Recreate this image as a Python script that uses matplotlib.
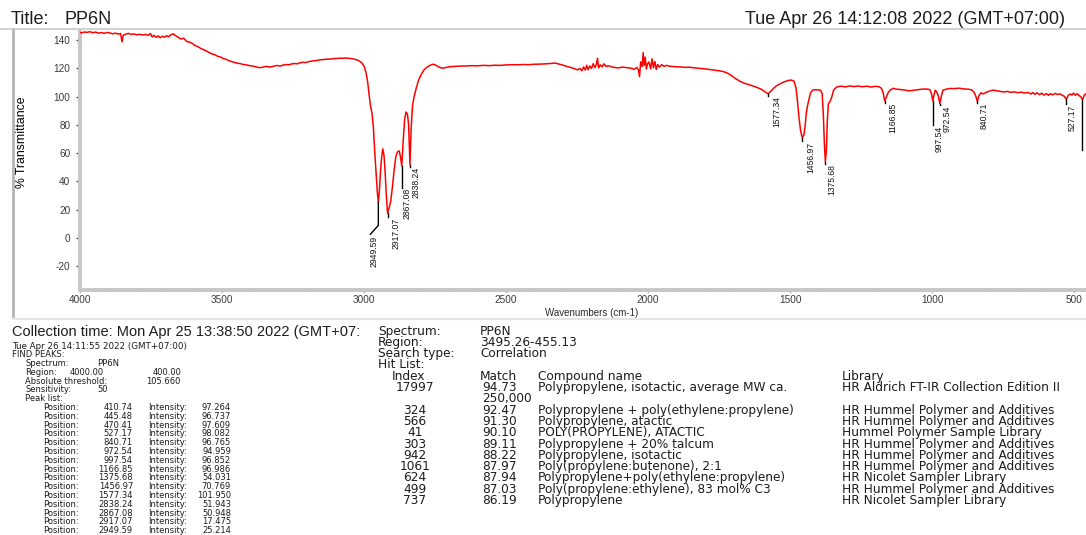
import matplotlib
matplotlib.use("Agg")
import matplotlib.pyplot as plt
from matplotlib.lines import Line2D
from matplotlib.ticker import MultipleLocator

W, H = 1086, 535
plt.rcParams['font.family'] = ['Liberation Sans', 'DejaVu Sans']

# ---------------- data ----------------
wavenumber = [
    4000, 3993, 3985, 3975, 3966, 3955, 3945, 3935, 3925, 3915, 3905, 3895, 3885, 3875, 3865, 3857,
    3852, 3848, 3840, 3830, 3820, 3810, 3800, 3790, 3780, 3770, 3760, 3752, 3746, 3740, 3732, 3725,
    3718, 3710, 3702, 3695, 3688, 3680, 3672, 3665, 3655, 3645, 3635, 3625, 3615, 3605, 3595, 3585,
    3575, 3565, 3555, 3545, 3535, 3525, 3515, 3505, 3495, 3485, 3475, 3465, 3455, 3445, 3435, 3425,
    3415, 3405, 3395, 3385, 3375, 3365, 3355, 3345, 3335, 3325, 3315, 3305, 3295, 3285, 3275, 3265,
    3255, 3245, 3235, 3225, 3215, 3205, 3195, 3185, 3175, 3165, 3155, 3145, 3135, 3125, 3115, 3105,
    3095, 3085, 3075, 3065, 3055, 3045, 3035, 3025, 3015, 3007, 3000, 2993, 2987, 2982, 2977, 2972,
    2967, 2962, 2957, 2953, 2949.59, 2946, 2942, 2938, 2934, 2930, 2926, 2922, 2917.07, 2912, 2906,
    2900, 2894, 2888, 2882, 2876, 2871, 2867.08, 2862, 2857, 2852, 2847, 2843, 2838.24, 2834, 2829,
    2823, 2816, 2808, 2800, 2790, 2780, 2770, 2758, 2750, 2738, 2726, 2716, 2700, 2680, 2660, 2640,
    2620, 2600, 2580, 2560, 2540, 2520, 2500, 2480, 2460, 2440, 2420, 2400, 2380, 2360, 2340, 2325,
    2315, 2300, 2285, 2270, 2258, 2248, 2240, 2233, 2227, 2221, 2216, 2211, 2205, 2199, 2193, 2187,
    2182, 2178, 2174, 2168, 2162, 2155, 2148, 2140, 2130, 2120, 2105, 2090, 2075, 2060, 2048, 2040,
    2034, 2030, 2026, 2021, 2017, 2014, 2010, 2006, 2002, 1997, 1991, 1986, 1981, 1976, 1971, 1966,
    1960, 1952, 1944, 1935, 1925, 1912, 1900, 1885, 1870, 1855, 1840, 1825, 1810, 1795, 1780, 1765,
    1750, 1735, 1720, 1705, 1690, 1675, 1660, 1645, 1630, 1615, 1600, 1590, 1577.34, 1568, 1558, 1548,
    1535, 1520, 1505, 1495, 1486, 1479, 1474, 1469, 1463, 1456.97, 1451, 1447, 1443, 1439, 1434, 1428,
    1421, 1410, 1400, 1392, 1387, 1383, 1379, 1375.68, 1372, 1369, 1365, 1360, 1354, 1347, 1340, 1333,
    1320, 1305, 1290, 1275, 1260, 1245, 1230, 1215, 1200, 1188, 1178, 1172, 1166.85, 1161, 1155, 1147,
    1137, 1125, 1110, 1095, 1080, 1065, 1050, 1035, 1020, 1008, 1002, 997.54, 994, 989, 984, 978,
    972.54, 968, 962, 950, 935, 920, 905, 890, 875, 862, 852, 846, 840.71, 835, 828, 820,
    812, 804, 795, 785, 772, 760, 748, 735, 722, 710, 698, 686, 674, 663, 652, 645,
    638, 630, 622, 614, 606, 598, 590, 583, 575, 567, 558, 550, 542, 535, 527.17, 521,
    514, 508, 502, 496, 489, 482, 476, 470.41, 465, 460, 455,
]
transmittance = [
    145.2, 145.0, 145.6, 145.3, 145.8, 145.1, 145.5, 144.8, 145.2, 144.6, 145.3, 144.9, 144.3, 144.8, 144.1, 144.5,
    138.6, 143.2, 144.0, 144.6, 143.9, 144.2, 143.6, 144.0, 143.4, 143.9, 143.2, 144.5, 142.0, 143.3, 141.8, 142.9,
    141.5, 142.6, 141.9, 143.0, 142.2, 143.6, 144.3, 143.2, 142.0, 140.6, 141.2, 139.0, 138.4, 137.6, 136.0, 135.2,
    134.0, 133.1, 132.2, 131.0, 130.1, 129.5, 128.4, 127.9, 126.8, 126.2, 125.3, 124.6, 124.0, 123.5, 123.2, 122.6,
    122.4, 121.9, 121.6, 121.2, 120.6, 120.4, 120.8, 121.3, 120.9, 121.0, 121.6, 121.9, 121.5, 122.2, 122.6, 122.4,
    123.0, 123.3, 123.1, 123.8, 124.2, 124.0, 124.6, 125.0, 125.3, 125.5, 125.9, 126.1, 126.3, 126.4, 126.6, 126.8,
    126.9, 127.1, 127.0, 127.2, 127.0, 126.8, 126.4, 125.9, 124.9, 123.6, 121.5, 117.0, 110.0, 101.0, 93.0, 88.5,
    78.0, 60.0, 45.0, 32.0, 25.2, 33.0, 47.0, 57.0, 63.0, 59.0, 48.0, 32.0, 17.5, 21.0, 26.0,
    36.0, 48.0, 57.5, 61.0, 61.5, 56.5, 50.9, 69.0, 84.0, 89.0, 87.5, 80.0, 51.9, 78.0, 94.0,
    100.5, 106.0, 111.5, 115.0, 118.5, 120.5, 121.8, 122.8, 122.4, 121.0, 120.0, 120.3, 121.0, 121.3, 121.5, 121.6,
    121.8, 121.7, 122.0, 121.8, 122.1, 122.0, 122.3, 122.5, 122.4, 122.6, 122.5, 122.8, 122.9, 123.1, 123.4, 123.6,
    123.0, 122.2, 121.2, 120.4, 119.6, 118.8, 119.8, 118.2, 120.9, 118.7, 122.1, 118.9, 121.6, 119.8, 123.2, 120.4,
    122.6, 127.0, 120.2, 122.4, 120.9, 123.1, 121.2, 121.8, 121.0, 120.6, 120.2, 120.8, 120.4, 120.0, 119.2, 120.6,
    118.9, 114.0, 124.5, 121.2, 131.0, 122.0, 127.8, 119.4, 123.0, 124.4, 119.6, 126.6, 120.3, 124.8, 119.0, 122.6,
    120.8, 122.5, 121.3, 122.0, 121.4, 121.2, 121.0, 120.9, 120.6, 120.7, 120.3, 120.0, 119.7, 119.4, 119.0, 118.6,
    118.2, 117.6, 116.5, 114.6, 112.4, 110.6, 109.3, 108.4, 107.4, 106.3, 105.0, 103.6, 101.95, 103.6, 105.8, 107.6,
    109.0, 110.4, 111.4, 111.6, 110.8, 106.0, 97.0, 86.0, 76.0, 70.8, 73.0, 79.0, 88.0, 93.0, 97.5, 102.5,
    104.5, 104.8, 104.6, 104.4, 102.0, 88.0, 66.0, 54.0, 62.0, 82.0, 95.0, 96.2, 99.0, 104.3, 106.0, 106.9,
    107.3, 106.8, 107.5, 107.0, 107.4, 106.9, 107.3, 106.7, 107.2, 107.0, 105.8, 102.5, 97.0, 99.5, 102.6, 104.6,
    105.8, 105.2, 104.9, 104.5, 104.0, 104.4, 104.8, 105.2, 105.3, 104.9, 102.0, 96.85, 100.5, 104.4, 103.4, 100.5,
    94.96, 99.5, 104.4, 105.2, 105.7, 105.6, 105.9, 105.4, 105.2, 104.8, 103.0, 100.2, 96.77, 100.5, 102.6, 101.8,
    102.7, 103.4, 103.9, 104.5, 104.0, 103.6, 103.2, 103.6, 102.9, 103.3, 102.7, 103.1, 102.4, 102.9, 101.8, 102.8,
    101.6, 102.6, 101.3, 102.4, 101.0, 102.1, 100.8, 102.0, 101.1, 102.2, 101.4, 101.9, 100.9, 100.2, 98.08, 100.6,
    101.8, 101.0, 102.4, 100.9, 102.0, 100.6, 99.8, 97.61, 100.5, 101.8, 101.2,
]

peak_positions = [410.74, 445.48, 470.41, 527.17, 840.71, 972.54, 997.54, 1166.85,
                  1375.68, 1456.97, 1577.34, 2838.24, 2867.08, 2917.07, 2949.59]
peak_intensities = [97.264, 96.737, 97.609, 98.082, 96.765, 94.959, 96.852, 96.986,
                    54.031, 70.769, 101.950, 51.943, 50.948, 17.475, 25.214]

hit_index = ["17997", "324", "566", "41", "303", "942", "1061", "624", "499", "737"]
hit_match = ["94.73", "92.47", "91.30", "90.10", "89.11", "88.22", "87.97", "87.94", "87.03", "86.19"]
hit_name = ["Polypropylene, isotactic, average MW ca.",
            "Polypropylene + poly(ethylene:propylene)",
            "Polypropylene, atactic",
            "POLY(PROPYLENE), ATACTIC",
            "Polypropylene + 20% talcum",
            "Polypropylene, isotactic",
            "Poly(propylene:butenone), 2:1",
            "Polypropylene+poly(ethylene:propylene)",
            "Poly(propylene:ethylene), 83 mol% C3",
            "Polypropylene"]
hit_library = ["HR Aldrich FT-IR Collection Edition II",
               "HR Hummel Polymer and Additives",
               "HR Hummel Polymer and Additives",
               "Hummel Polymer Sample Library",
               "HR Hummel Polymer and Additives",
               "HR Hummel Polymer and Additives",
               "HR Hummel Polymer and Additives",
               "HR Nicolet Sampler Library",
               "HR Hummel Polymer and Additives",
               "HR Nicolet Sampler Library"]

x_ticks = [4000, 3500, 3000, 2500, 2000, 1500, 1000, 500]
y_ticks = [-20, 0, 20, 40, 60, 80, 100, 120, 140]

# ---------------- layout ----------------
fig = plt.figure(figsize=(W / 100, H / 100), dpi=100)
fig.patch.set_facecolor('white')

WIDE = ['DejaVu Sans']


def fx(x):
    return x / W


def fy(y):
    return 1 - y / H


def ftext(x, y, s, size, ha='left', color='#1c1c1c', **kw):
    # y is the visual centre of the capital letters; place on the baseline
    base = y + 0.36 * size * 100 / 72
    fig.text(fx(x), fy(base), s, fontsize=size, ha=ha, va='baseline', color=color, **kw)


AX_L, AX_T, AX_R, AX_B = 80, 30, 1086, 290
XMIN, XMAX = 4000, 458
YMIN, YMAX = -36.75, 147.0
ax = fig.add_axes([fx(AX_L), fy(AX_B), (AX_R - AX_L) / W, (AX_B - AX_T) / H])
ax.set_facecolor('none')
ax.plot(wavenumber, transmittance, color='#ff0000', lw=1.1, zorder=3)
ax.set_xlim(XMIN, XMAX)
ax.set_ylim(YMIN, YMAX)

for s in ['top', 'right']:
    ax.spines[s].set_visible(False)
for s in ['left', 'bottom']:
    ax.spines[s].set_color('#c6c6c6')
    ax.spines[s].set_linewidth(2.8)

ax.set_xticks(x_ticks)
ax.set_xticklabels([str(t) for t in x_ticks])
ax.set_yticks(y_ticks)
ax.set_yticklabels([str(t) for t in y_ticks])
ax.xaxis.set_minor_locator(MultipleLocator(100))
ax.yaxis.set_minor_locator(MultipleLocator(5))
ax.tick_params(which='major', direction='out', length=3, width=1.0, color='#4a4a4a',
               labelsize=7.2, labelcolor='#3a3a3a')
ax.tick_params(axis='y', which='major', pad=4)
ax.tick_params(axis='x', which='major', length=1.5, pad=2)
ax.tick_params(which='minor', direction='inout', length=1.5, width=1.0, color='#5a5a5a')

# pixel -> data scales
px_per_wn = (AX_R - AX_L) / (XMIN - XMAX)
px_per_T = (AX_B - AX_T) / (YMAX - YMIN)

label_layout = {
    2949.59: dict(lead=23, slant=-8, drop=9, dx=-1, gap=2),
    2917.07: dict(lead=4, dx=4, gap=1),
    2867.08: dict(lead=22, dx=1, gap=0),
    2838.24: dict(lead=2, dx=2, gap=0),
    1577.34: dict(lead=2, dx=4, gap=0),
    1456.97: dict(lead=3, dx=4, gap=1),
    1375.68: dict(lead=2, dx=2, gap=1),
    1166.85: dict(lead=2, dx=4, gap=0),
    997.54: dict(lead=24, dx=2, gap=1),
    972.54: dict(lead=1, dx=3, gap=1),
    840.71: dict(lead=2, dx=2, gap=0),
    527.17: dict(lead=5, dx=1, gap=1),
    470.41: dict(lead=50, text=False),
}

for pos, inten in zip(peak_positions, peak_intensities):
    if pos < XMAX:
        continue
    lay = label_layout.get(pos, dict(lead=2, dx=3, gap=0))
    y_end = inten - lay['lead'] / px_per_T
    xs = [pos, pos]
    ys = [inten, y_end]
    tx, ty = pos, y_end
    if 'slant' in lay:
        x2 = pos - lay['slant'] / px_per_wn
        y2 = y_end - lay['drop'] / px_per_T
        xs.append(x2)
        ys.append(y2)
        tx, ty = x2, y2
    ax.plot(xs, ys, color='black', lw=1.0, zorder=4, clip_on=False)
    if lay.get('text', True):
        ax.annotate(f"{pos:.2f}", xy=(tx, ty), xycoords='data',
                    xytext=(lay['dx'] * 0.72, -lay['gap'] * 0.72), textcoords='offset points',
                    rotation=90, ha='left', va='top', fontsize=6.2, color='#111111',
                    annotation_clip=False)

# axis labels
ftext(592, 313, "Wavenumbers (cm-1)", 7, ha='center', color='#2a2a2a')
fig.text(fx(22), fy(142), "% Transmittance", fontsize=8.8, rotation=90, ha='center',
         va='center', color='black')

# frame lines
fig.add_artist(Line2D([0, 1], [fy(29), fy(29)], color='#d2d2d2', lw=1.5))
fig.add_artist(Line2D([fx(13), fx(13)], [fy(30), fy(318)], color='#b4b4b4', lw=2.0))
fig.add_artist(Line2D([fx(13), 1], [fy(319), fy(319)], color='#e4e4e4', lw=1.5))

# header
ftext(11, 17, "Title:", 13)
ftext(65, 17, "PP6N", 13)
ftext(1065, 17, "Tue Apr 26 14:12:08 2022 (GMT+07:00)", 13, ha='right')

# lower-left block
ftext(12, 331, "Collection time: Mon Apr 25 13:38:50 2022 (GMT+07:", 10.5)
small = 6.0
ftext(12, 346, "Tue Apr 26 14:11:55 2022 (GMT+07:00)", 6.3, family=WIDE)
ftext(12, 354, "FIND PEAKS:", small, family=WIDE)
ftext(25, 363, "Spectrum:", small, family=WIDE)
ftext(97, 363, "PP6N", small, family=WIDE)
ftext(25, 372, "Region:", small, family=WIDE)
ftext(70, 372, "4000.00", small, family=WIDE)
ftext(153, 372, "400.00", small, family=WIDE)
ftext(25, 381, "Absolute threshold:", small, family=WIDE)
ftext(146, 381, "105.660", small, family=WIDE)
ftext(25, 389, "Sensitivity:", small, family=WIDE)
ftext(97, 389, "50", small, family=WIDE)
ftext(25, 398, "Peak list:", small, family=WIDE)
for i, (pos, inten) in enumerate(zip(peak_positions, peak_intensities)):
    yy = 407 + i * 8.8
    ftext(43, yy, "Position:", small, family=WIDE)
    ftext(133, yy, f"{pos:.2f}", small, ha='right', family=WIDE)
    ftext(148, yy, "Intensity:", small, family=WIDE)
    ftext(231, yy, f"{inten:.3f}", small, ha='right', family=WIDE)

# lower-right block
big = 8.7
ftext(378, 331, "Spectrum:", big, family=WIDE)
ftext(480, 331, "PP6N", big, family=WIDE)
ftext(378, 342, "Region:", big, family=WIDE)
ftext(480, 342, "3495.26-455.13", big, family=WIDE)
ftext(378, 353, "Search type:", big, family=WIDE)
ftext(480, 353, "Correlation", big, family=WIDE)
ftext(378, 364, "Hit List:", big, family=WIDE)
ftext(392, 376, "Index", big, family=WIDE)
ftext(480, 376, "Match", big, family=WIDE)
ftext(538, 376, "Compound name", big, family=WIDE)
ftext(842, 376, "Library", big, family=WIDE)
row_y = [387, 410, 421, 432, 444, 455, 466, 477, 489, 500]
for yy, idx, m, nm, lib in zip(row_y, hit_index, hit_match, hit_name, hit_library):
    ftext(415, yy, idx, big, ha='center', family=WIDE)
    ftext(482, yy, m, big, family=WIDE)
    ftext(538, yy, nm, big, family=WIDE)
    ftext(842, yy, lib, big, family=WIDE)
ftext(482, 398, "250,000", big, family=WIDE)

fig.savefig("out.png", dpi=100, facecolor='white')
